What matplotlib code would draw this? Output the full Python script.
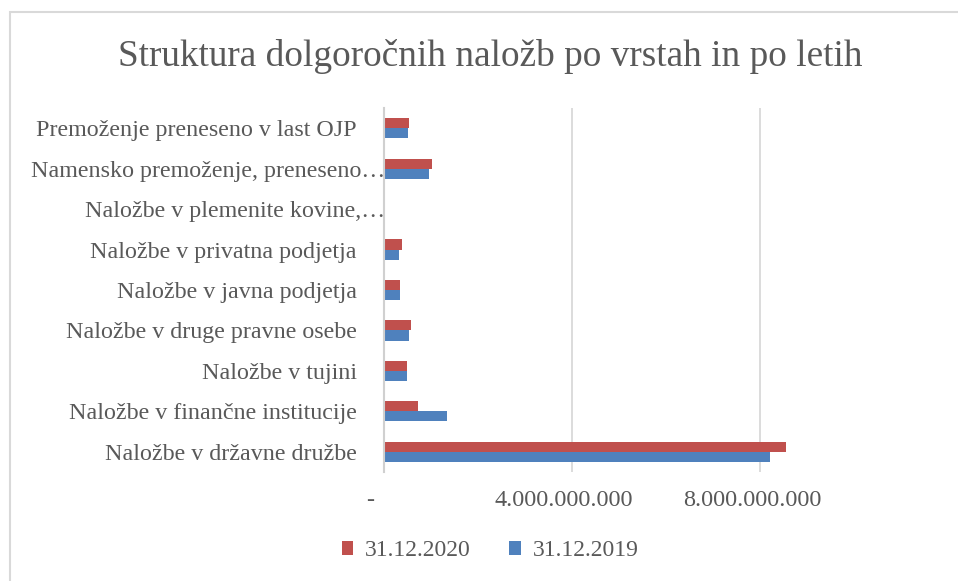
import matplotlib

matplotlib.use("Agg")
import matplotlib.pyplot as plt
import matplotlib.transforms as mtransforms
import numpy as np
from matplotlib.patches import Rectangle

# categories bottom -> top
categories = [
    "Naložbe v državne družbe",
    "Naložbe v finančne institucije",
    "Naložbe v tujini",
    "Naložbe v druge pravne osebe",
    "Naložbe v javna podjetja",
    "Naložbe v privatna podjetja",
    "Naložbe v plemenite kovine,…",
    "Namensko premoženje, preneseno…",
    "Premoženje preneseno v last OJP",
]
vals_2020 = [8.55e9, 7.3e8, 4.9e8, 5.7e8, 3.4e8, 3.8e8, 0.0, 1.03e9, 5.35e8]
vals_2019 = [8.21e9, 1.34e9, 4.9e8, 5.35e8, 3.4e8, 3.2e8, 0.0, 9.55e8, 5.15e8]
series_labels = ["31.12.2020", "31.12.2019"]
xticks = [0, 4e9, 8e9]
xtick_labels = ["-", "4.000.000.000", "8.000.000.000"]

RED, BLUE, TXT = "#C0504D", "#4F81BD", "#595959"
plt.rcParams["font.family"] = ["Liberation Serif", "DejaVu Serif"]

fig = plt.figure(figsize=(9.58, 5.81), dpi=100)
fig.patches.append(Rectangle((10 / 958, -0.1), 1.2, (581 - 12.5) / 581 + 0.1,
                             transform=fig.transFigure, fill=False,
                             ec="#d9d9d9", lw=1.5))
ax = fig.add_axes([384 / 958, 1 - 472 / 581, 423 / 958, 364 / 581])

y = np.arange(len(categories))
h = 0.25
ax.barh(y + h / 2, vals_2020, height=h, color=RED, label=series_labels[0])
ax.barh(y - h / 2, vals_2019, height=h, color=BLUE, label=series_labels[1])

ax.set_xlim(0, 9e9)
ax.set_ylim(-0.5, len(categories) - 0.5)
ax.set_xticks(xticks)
ax.set_xticklabels(xtick_labels)
ax.set_yticks(y)
ax.set_yticklabels(categories)
ax.tick_params(axis="x", length=0, pad=13, labelsize=17.5, labelcolor=TXT)
ax.tick_params(axis="y", length=0, pad=19.5, labelsize=17.3, labelcolor=TXT)
# accounting format pads the numbers on the right ("-" a bit more)
for i, lab in enumerate(ax.get_xticklabels()):
    dx = -14 if i == 0 else -8
    lab.set_transform(lab.get_transform()
                      + mtransforms.ScaledTranslation(dx / 100, 0, fig.dpi_scale_trans))
# truncated labels run over the axis in the original
over = mtransforms.ScaledTranslation(28 / 100, 0, fig.dpi_scale_trans)
for lab in ax.get_yticklabels():
    if lab.get_text().endswith("…"):
        lab.set_transform(lab.get_transform() + over)

ax.grid(axis="x", color="#d9d9d9", lw=1.3)
ax.set_axisbelow(True)
for s in ["top", "right", "bottom"]:
    ax.spines[s].set_visible(False)
ax.spines["left"].set_color("#d0d0d0")
ax.spines["left"].set_linewidth(1.5)

fig.text(490 / 958, 1 - 56 / 581, "Struktura dolgoročnih naložb po vrstah in po letih",
         ha="center", va="center", fontsize=26.8, color=TXT)
fig.legend(loc="center", bbox_to_anchor=(490 / 958, 1 - 551 / 581), ncol=2,
           frameon=False, fontsize=17, labelcolor=TXT, handlelength=0.5,
           handleheight=0.5, columnspacing=1.6, handletextpad=0.5)

fig.savefig("out.png", dpi=100, facecolor="white")
